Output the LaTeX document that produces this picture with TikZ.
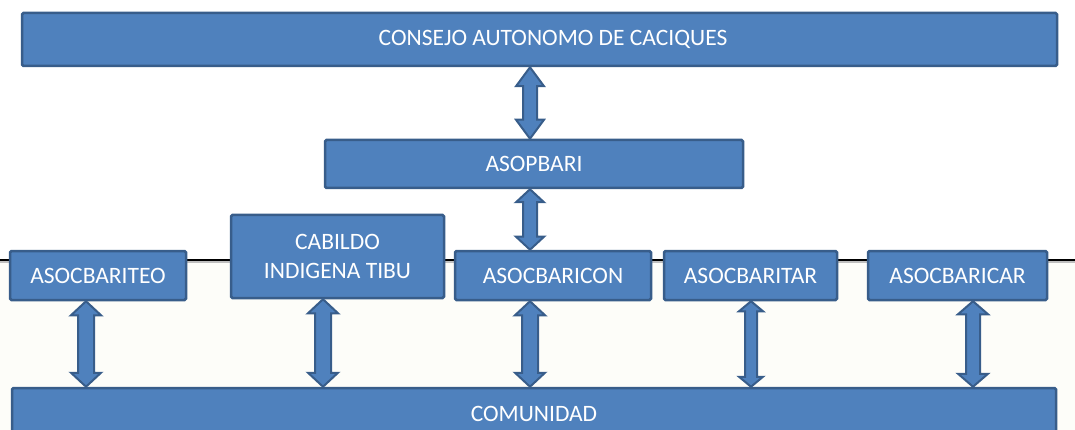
\documentclass[tikz,border=0pt]{standalone}
\usepackage{fontspec}
\setmainfont{Carlito}
\usetikzlibrary{positioning, calc}

\definecolor{boxfill}{HTML}{4F81BD}
\definecolor{boxline}{HTML}{385D8A}
\definecolor{cream}{HTML}{FDFDF9}

% double block arrow: head half-width, shaft half-width, head length, upper point, lower point
\newcommand{\linkarrow}[5]{%
  \draw[linkarrow] let \p1=(#4), \p2=(#5) in
    (\x1,\y1) -- (\x1+#1,\y1-#3) -- (\x1+#2,\y1-#3) -- (\x1+#2,\y2+#3)
    -- (\x1+#1,\y2+#3) -- (\x1,\y2) -- (\x1-#1,\y2+#3) -- (\x1-#2,\y2+#3)
    -- (\x1-#2,\y1-#3) -- (\x1-#1,\y1-#3) -- cycle;}

\begin{document}
\begin{tikzpicture}[
    x=1pt, y=-1pt,
    orgbox/.style={draw=boxline, fill=boxfill, line width=2.5pt, rounded corners=1.5pt,
        text=white, align=center, inner sep=0pt, font=\fontsize{23.5}{29}\selectfont},
    linkarrow/.style={draw=boxline, fill=boxfill, line width=2pt, line join=miter},
]
\useasboundingbox (0,0) rectangle (1075,430);
\fill[cream] (0,260) rectangle (1075,430);
\draw[gray!50, line width=1.2pt] (0,262) -- (1075,262);
\draw[black, line width=1.5pt] (0,260) -- (1075,260);

\node[orgbox, minimum width=1035pt, minimum height=53pt] (consejo) at (539.5,39.5) {\hspace*{27pt}CONSEJO AUTONOMO DE CACIQUES};
\node[orgbox, minimum width=418pt, minimum height=48pt] (asopbari) at (534,164) {ASOPBARI};
\node[orgbox, minimum width=213pt, minimum height=83pt] (cabildo) at (337.5,256.5) {CABILDO\\INDIGENA TIBU};
\node[orgbox, minimum width=176pt, minimum height=49pt] (asocbariteo) at (98,275.5) {ASOCBARITEO};
\node[orgbox, minimum width=196pt, minimum height=49pt] (asocbaricon) at (553,275.5) {ASOCBARICON};
\node[orgbox, minimum width=173pt, minimum height=49pt] (asocbaritar) at (750.5,275.5) {ASOCBARITAR};
\node[orgbox, minimum width=179pt, minimum height=49pt] (asocbaricar) at (957.5,275.5) {ASOCBARICAR};
\node[orgbox, minimum width=1044pt, minimum height=52pt] (comunidad) at (534,414) {COMUNIDAD};

\linkarrow{14pt}{7pt}{19pt}{consejo.south -| 530,0}{asopbari.north}
\linkarrow{14pt}{7pt}{13pt}{asopbari.south -| 530,0}{asocbaricon.north}
\linkarrow{15pt}{8pt}{14pt}{asocbariteo.south -| 86,0}{comunidad.north}
\linkarrow{15pt}{8pt}{14pt}{cabildo.south -| 323,0}{comunidad.north}
\linkarrow{15pt}{8pt}{14pt}{asocbaricon.south -| 530,0}{comunidad.north}
\linkarrow{12pt}{6pt}{10pt}{asocbaritar.south -| 751,0}{comunidad.north}
\linkarrow{15pt}{7pt}{13pt}{asocbaricar.south -| 973,0}{comunidad.north}
\end{tikzpicture}
\end{document}
